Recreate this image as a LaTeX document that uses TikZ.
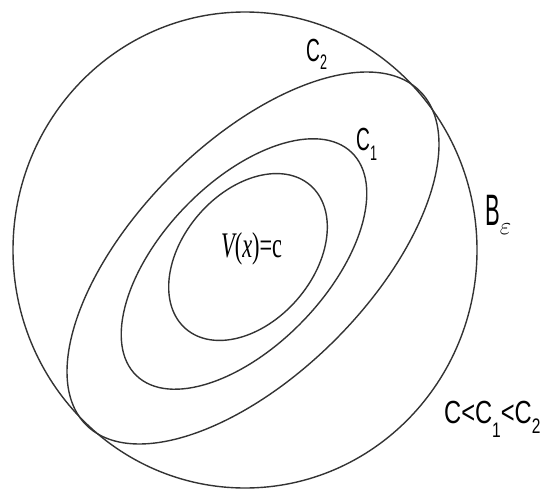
\documentclass[tikz,border=0pt]{standalone}
\usepackage{fontspec}
\newfontfamily\labfont{Liberation Sans}
\newfontfamily\serfont{Liberation Serif}
\newcommand{\lowsub}[3]{\raisebox{-#1}{\fontsize{#2}{#2}\selectfont #3}}
\begin{document}
\begin{tikzpicture}[x=1pt,y=1pt,
  curve/.style={draw=black!80, line width=1.4pt},
  lab/.style={font=\labfont\fontsize{32}{32}\selectfont, inner sep=0pt, anchor=base west}]
\useasboundingbox (0,0) rectangle (543,491);
% ball B_eps
\draw[curve] (245,241) ellipse [x radius=232pt, y radius=238pt];
% level set c2
\draw[curve, rotate around={45:(253,233)}] (253,233) ellipse [x radius=236pt, y radius=116pt];
% level set c1
\draw[curve, rotate around={46:(244,227)}] (244,227) ellipse [x radius=155pt, y radius=82pt];
% level set c
\draw[curve, rotate around={49:(248,234)}] (248,234) ellipse [x radius=95pt, y radius=65pt];
% labels
\node[lab] (lc2) at (306,429) {\scalebox{0.6}[1]{C\lowsub{8pt}{21}{2}}};
\node[lab] (lc1) at (356,341) {\scalebox{0.6}[1]{C\lowsub{10pt}{21}{1}}};
\node[lab, font=\labfont\fontsize{44}{44}\selectfont] (lb) at (485,266) {\scalebox{0.5}[1]{B}\lowsub{9pt}{25}{$\varepsilon$}};
\node[lab, font=\serfont\fontsize{36}{36}\selectfont] (lv) at (221,234) {\scalebox{0.62}[1]{\itshape V\upshape(\itshape x\upshape)=c}};
\node[lab] (lcc) at (444,68) {\scalebox{0.74}[1]{C<C\lowsub{14pt}{21}{1}<C\lowsub{10pt}{21}{2}}};
\end{tikzpicture}
\end{document}
